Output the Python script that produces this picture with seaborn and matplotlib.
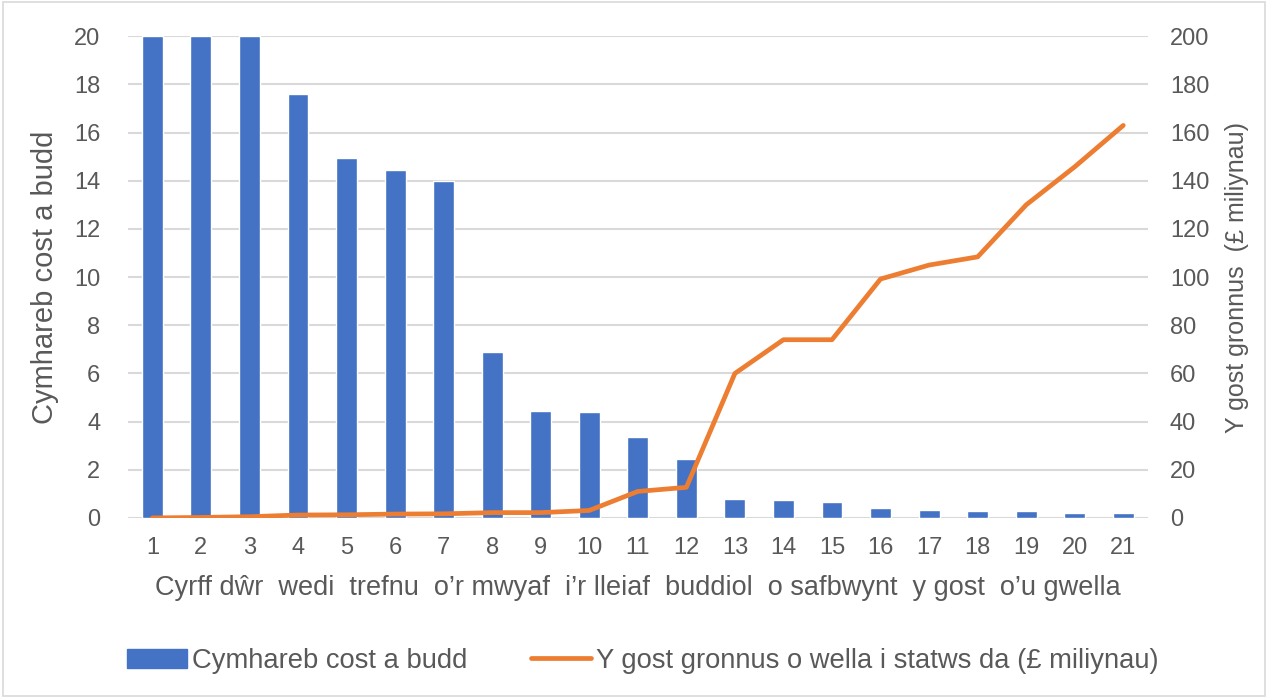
import numpy as np
import pandas as pd
import matplotlib
matplotlib.use("Agg")
import matplotlib.pyplot as plt
import seaborn as sns
from matplotlib.patches import Rectangle, Patch
from matplotlib.lines import Line2D

# Data
water_bodies = list(range(1, 22))
cost_benefit = [20, 20, 20, 17.6, 14.95, 14.45, 14.0, 6.9, 4.45, 4.4, 3.35, 2.45,
                0.8, 0.74, 0.68, 0.43, 0.32, 0.27, 0.27, 0.21, 0.21]
cumulative_cost = [0.0, 0.2, 0.5, 1.2, 1.3, 1.6, 1.7, 2.2, 2.2, 3.1, 11.0, 12.7,
                   60.0, 74.0, 74.0, 99.2, 105.0, 108.4, 130.0, 145.8, 163.0]

bar_label = "Cymhareb cost a budd"
line_label = "Y gost gronnus o wella i statws da (£ miliynau)"
x_label = "Cyrff dŵr  wedi  trefnu  o’r mwyaf  i’r lleiaf  buddiol  o safbwynt  y gost  o’u gwella"
left_ylabel = "Cymhareb cost a budd"
right_ylabel = "Y gost gronnus  (£ miliynau)"

BLUE = "#4472C4"
ORANGE = "#ED7D31"
TEXT = "#595959"
GRID = "#D9D9D9"

df = pd.DataFrame({"body": water_bodies, "ratio": cost_benefit, "cost": cumulative_cost})

sns.set_theme(style="white")
plt.rcParams["font.family"] = ["Liberation Sans", "DejaVu Sans"]

fig = plt.figure(figsize=(12.68, 6.98), dpi=100)
ax = fig.add_axes([0.101, 0.258, 0.804, 0.690])

sns.barplot(data=df, x="body", y="ratio", native_scale=True, width=0.43,
            color=BLUE, saturation=1, ax=ax, zorder=2)

ax2 = ax.twinx()
sns.lineplot(data=df, x="body", y="cost", color=ORANGE, linewidth=3.4,
             ax=ax2, zorder=3, solid_capstyle="round")

ax.set_xlim(0.5, 21.5)
ax.set_ylim(0, 20)
ax2.set_ylim(0, 200)
ax.set_yticks(np.arange(0, 21, 2))
ax2.set_yticks(np.arange(0, 201, 20))
ax.set_xticks(water_bodies)
ax.set_xticklabels([str(v) for v in water_bodies])

ax.yaxis.grid(True, color=GRID, linewidth=1.5, zorder=0)
ax.set_axisbelow(True)
for a in (ax, ax2):
    for s in a.spines.values():
        s.set_visible(False)
    a.tick_params(length=0, labelsize=17, colors=TEXT)
ax.tick_params(axis="x", pad=14)
ax.tick_params(axis="y", pad=20)
ax2.tick_params(axis="y", pad=16)

ax.set_xlabel(x_label, fontsize=19.5, color=TEXT, labelpad=11)
ax.set_ylabel(left_ylabel, fontsize=21, color=TEXT, labelpad=11)
ax2.set_ylabel(right_ylabel, fontsize=18, color=TEXT, labelpad=11)

handles = [Patch(facecolor=BLUE, edgecolor=BLUE),
           Line2D([0], [0], color=ORANGE, linewidth=3.4)]
fig.legend(handles, [bar_label, line_label], loc="center", bbox_to_anchor=(0.507, 0.053),
           ncol=2, frameon=False, fontsize=19.7, labelcolor=TEXT,
           handlelength=2.2, handletextpad=0.2, columnspacing=2.3)

fig.add_artist(Rectangle((0.002, 0.003), 0.996, 0.994, transform=fig.transFigure,
                         fill=False, edgecolor="#D9D9D9", linewidth=1.2))

fig.savefig("out.png", dpi=100)
